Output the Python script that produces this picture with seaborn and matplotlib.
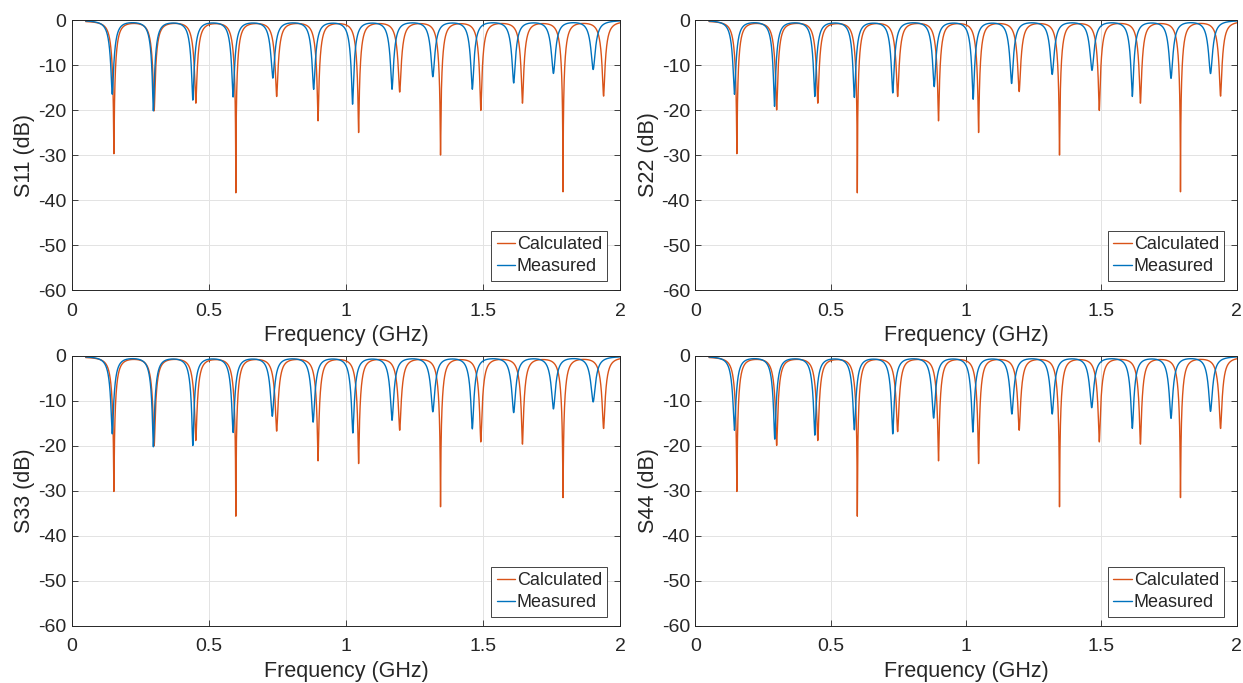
import numpy as np
import pandas as pd
import matplotlib
matplotlib.use("Agg")
from matplotlib import pyplot as plt
from matplotlib.ticker import FuncFormatter
import seaborn as sns

# Resonance dips: frequency (GHz) and depth (dB)
calc_freq = [0.153, 0.300, 0.452, 0.598, 0.747, 0.898, 1.046, 1.196, 1.345, 1.492, 1.644, 1.792, 1.940]
calc_depth_s11 = [-29.6, -20.0, -18.3, -38.2, -16.8, -22.2, -24.8, -15.8, -29.8, -19.9, -18.3, -38.0, -16.8]
calc_depth_s22 = [-29.6, -19.8, -18.3, -38.2, -16.8, -22.2, -24.8, -15.7, -29.8, -19.9, -18.3, -38.0, -16.8]
calc_depth_s33 = [-30.0, -19.8, -18.6, -35.4, -16.5, -23.1, -23.7, -16.3, -33.3, -18.9, -19.4, -31.3, -16.0]
calc_depth_s44 = [-30.0, -19.7, -18.6, -35.4, -16.6, -23.1, -23.7, -16.3, -33.3, -18.9, -19.4, -31.3, -16.0]

meas_freq_s11 = [0.147, 0.297, 0.441, 0.588, 0.733, 0.882, 1.024, 1.168, 1.317, 1.461, 1.612, 1.757, 1.902]
meas_depth_s11 = [-16.4, -20.0, -17.6, -16.9, -12.7, -15.2, -18.5, -15.2, -12.4, -15.2, -13.8, -11.7, -10.9]
meas_freq_s22 = [0.144, 0.292, 0.441, 0.587, 0.729, 0.882, 1.026, 1.168, 1.318, 1.465, 1.614, 1.757, 1.903]
meas_depth_s22 = [-16.4, -19.0, -16.8, -17.0, -16.0, -14.6, -17.4, -13.9, -11.9, -11.0, -16.8, -12.8, -11.8]
meas_freq_s33 = [0.147, 0.297, 0.441, 0.588, 0.731, 0.880, 1.025, 1.168, 1.317, 1.461, 1.612, 1.757, 1.902]
meas_depth_s33 = [-17.2, -20.0, -19.7, -16.8, -13.2, -14.5, -16.9, -14.1, -12.2, -16.0, -12.4, -11.6, -10.1]
meas_freq_s44 = [0.144, 0.293, 0.441, 0.587, 0.729, 0.880, 1.025, 1.169, 1.318, 1.464, 1.614, 1.757, 1.903]
meas_depth_s44 = [-16.4, -18.3, -17.4, -16.2, -17.1, -13.6, -16.7, -12.7, -12.7, -11.3, -15.9, -13.7, -12.2]

panel_names = ["S11", "S22", "S33", "S44"]
x_ticks = [0, 0.5, 1, 1.5, 2]
y_ticks = [-60, -50, -40, -30, -20, -10, 0]

CALC_COLOR = "#D95319"
MEAS_COLOR = "#0072BD"


def notch_curve(freq, dip_freq, dip_depth, base_db, half_width):
    """Reflection in dB built from a set of resonance dips (lorentzian notch shape)."""
    power = np.full_like(freq, 10 ** (base_db / 10))
    for f0, depth in zip(dip_freq, dip_depth):
        t_max = 1 - 10 ** ((depth - base_db) / 10)
        power *= 1 - t_max / (1 + ((freq - f0) / half_width) ** 2)
    return 10 * np.log10(power)


def build_frame(calc_f, calc_d, meas_f, meas_d):
    sweep = np.linspace(0.05, 2.0, 6001)
    f_calc = np.union1d(sweep, calc_f)
    f_meas = np.union1d(sweep, meas_f)
    calc = pd.DataFrame({"freq": f_calc,
                         "db": notch_curve(f_calc, calc_f, calc_d, -0.15, 0.019),
                         "series": "Calculated"})
    meas = pd.DataFrame({"freq": f_meas,
                         "db": notch_curve(f_meas, meas_f, meas_d, 0.0, 0.019),
                         "series": "Measured"})
    return pd.concat([calc, meas], ignore_index=True)


def main():
    sns.set_style("ticks")
    plt.rcParams["font.family"] = ["Liberation Sans", "DejaVu Sans"]
    plt.rcParams["axes.unicode_minus"] = False

    panels = [
        (calc_depth_s11, meas_freq_s11, meas_depth_s11),
        (calc_depth_s22, meas_freq_s22, meas_depth_s22),
        (calc_depth_s33, meas_freq_s33, meas_depth_s33),
        (calc_depth_s44, meas_freq_s44, meas_depth_s44),
    ]
    # axes rectangles in figure fractions (left, bottom, width, height)
    rects = [
        (0.0579, 0.5754, 0.4409, 0.3953),
        (0.5595, 0.5754, 0.4355, 0.3953),
        (0.0579, 0.0835, 0.4409, 0.3953),
        (0.5595, 0.0835, 0.4355, 0.3953),
    ]

    fig = plt.figure(figsize=(12.43, 6.83), dpi=100)
    fmt = FuncFormatter(lambda v, pos: f"{v:g}")

    for name, rect, (calc_d, meas_f, meas_d) in zip(panel_names, rects, panels):
        ax = fig.add_axes(rect)
        df = build_frame(calc_freq, calc_d, meas_f, meas_d)
        sns.lineplot(data=df, x="freq", y="db", hue="series",
                     palette={"Calculated": CALC_COLOR, "Measured": MEAS_COLOR},
                     estimator=None, linewidth=1.0, ax=ax)
        ax.set_xlim(0, 2)
        ax.set_ylim(-60, 0)
        ax.set_xticks(x_ticks)
        ax.set_yticks(y_ticks)
        ax.xaxis.set_major_formatter(fmt)
        ax.yaxis.set_major_formatter(fmt)
        ax.grid(True, color="#e3e3e3", linewidth=0.7)
        ax.set_axisbelow(True)
        ax.tick_params(direction="in", length=4, width=0.6, labelsize=14,
                       top=True, right=True, colors="#262626")
        ax.tick_params(axis="x", pad=9)
        ax.tick_params(axis="y", pad=4)
        for sp in ax.spines.values():
            sp.set_visible(True)
            sp.set_color("#262626")
            sp.set_linewidth(0.7)
        ax.set_xlabel("Frequency (GHz)", fontsize=15.5, labelpad=4, color="#262626")
        ax.set_ylabel(f"{name} (dB)", fontsize=15.5, labelpad=2, color="#262626")
        leg = ax.legend(loc="lower right", bbox_to_anchor=(0.977, 0.034),
                        borderaxespad=0, fontsize=13, handlelength=1.0,
                        handletextpad=0.12, labelspacing=0.3, borderpad=0.3,
                        fancybox=False, framealpha=1)
        leg.get_frame().set_edgecolor("#262626")
        leg.get_frame().set_linewidth(0.6)

    fig.savefig("out.png", dpi=100)


if __name__ == "__main__":
    main()
